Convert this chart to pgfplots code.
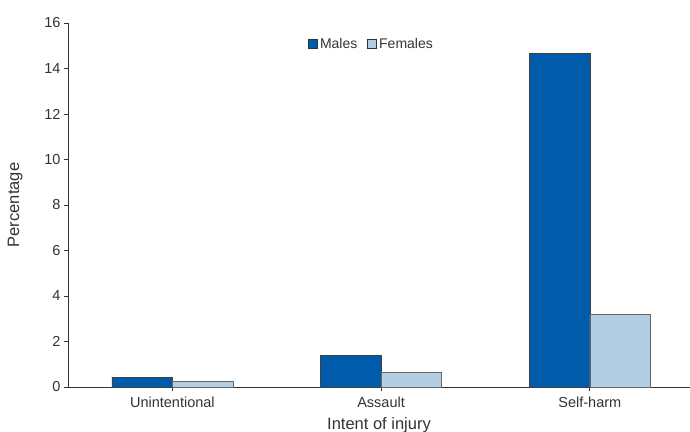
\documentclass[border=0pt]{standalone}
\usepackage{pgfplots}
\pgfplotsset{compat=1.18}
\usepackage{fontspec}
\setmainfont{Liberation Sans}
\definecolor{males}{HTML}{005BAA}
\definecolor{females}{HTML}{B3CDE3}
\definecolor{axgray}{HTML}{333333}
\begin{document}
\begin{tikzpicture}
\useasboundingbox (-68bp,-45bp) rectangle (622bp,387bp);
\begin{axis}[
  at={(0,0)}, anchor=south west,
  scale only axis,
  width=622bp, height=364bp,
  xmin=-0.5, xmax=2.48,
  ymin=0, ymax=16,
  ytick={0,2,...,16},
  xtick={0,1,2},
  xticklabels={Unintentional,Assault,Self-harm},
  axis x line=bottom, axis y line=left,
  axis line style={axgray, line width=0.8pt, -},
  tick style={axgray, line width=0.8pt},
  tick align=outside,
  major tick length=4bp,
  ybar=0pt, bar width=0.29,
  /pgf/number format/assume math mode=true,
  tick label style={font=\fontsize{14.5bp}{16bp}\selectfont, text=axgray},
  xticklabel style={yshift=-2bp},
  xlabel={Intent of injury},
  ylabel={Percentage},
  label style={font=\fontsize{16.5bp}{18bp}\selectfont, text=axgray},
  xlabel style={at={(axis description cs:0.5,0)}, anchor=north, yshift=-27bp},
  ylabel style={at={(axis description cs:0,0.5)}, anchor=south, yshift=42bp},
  legend style={draw=none, fill=none, at={(axis description cs:0.488,0.942)}, anchor=center,
    font=\fontsize{14bp}{16bp}\selectfont, text=axgray, legend columns=2,
    /tikz/every even column/.append style={column sep=8bp}},
  legend image code/.code={\draw[#1, draw=axgray, line width=0.8pt] (0bp,-4.5bp) rectangle (9bp,4.5bp);},
  legend cell align=left,
]
\addplot[fill=males, draw=black!75, line width=0.6pt] coordinates {(0,0.43) (1,1.40) (2,14.67)};
\addplot[fill=females, draw=black!60, line width=0.6pt] coordinates {(0,0.26) (1,0.65) (2,3.20)};
\legend{Males,Females}
\end{axis}
\end{tikzpicture}
\end{document}
